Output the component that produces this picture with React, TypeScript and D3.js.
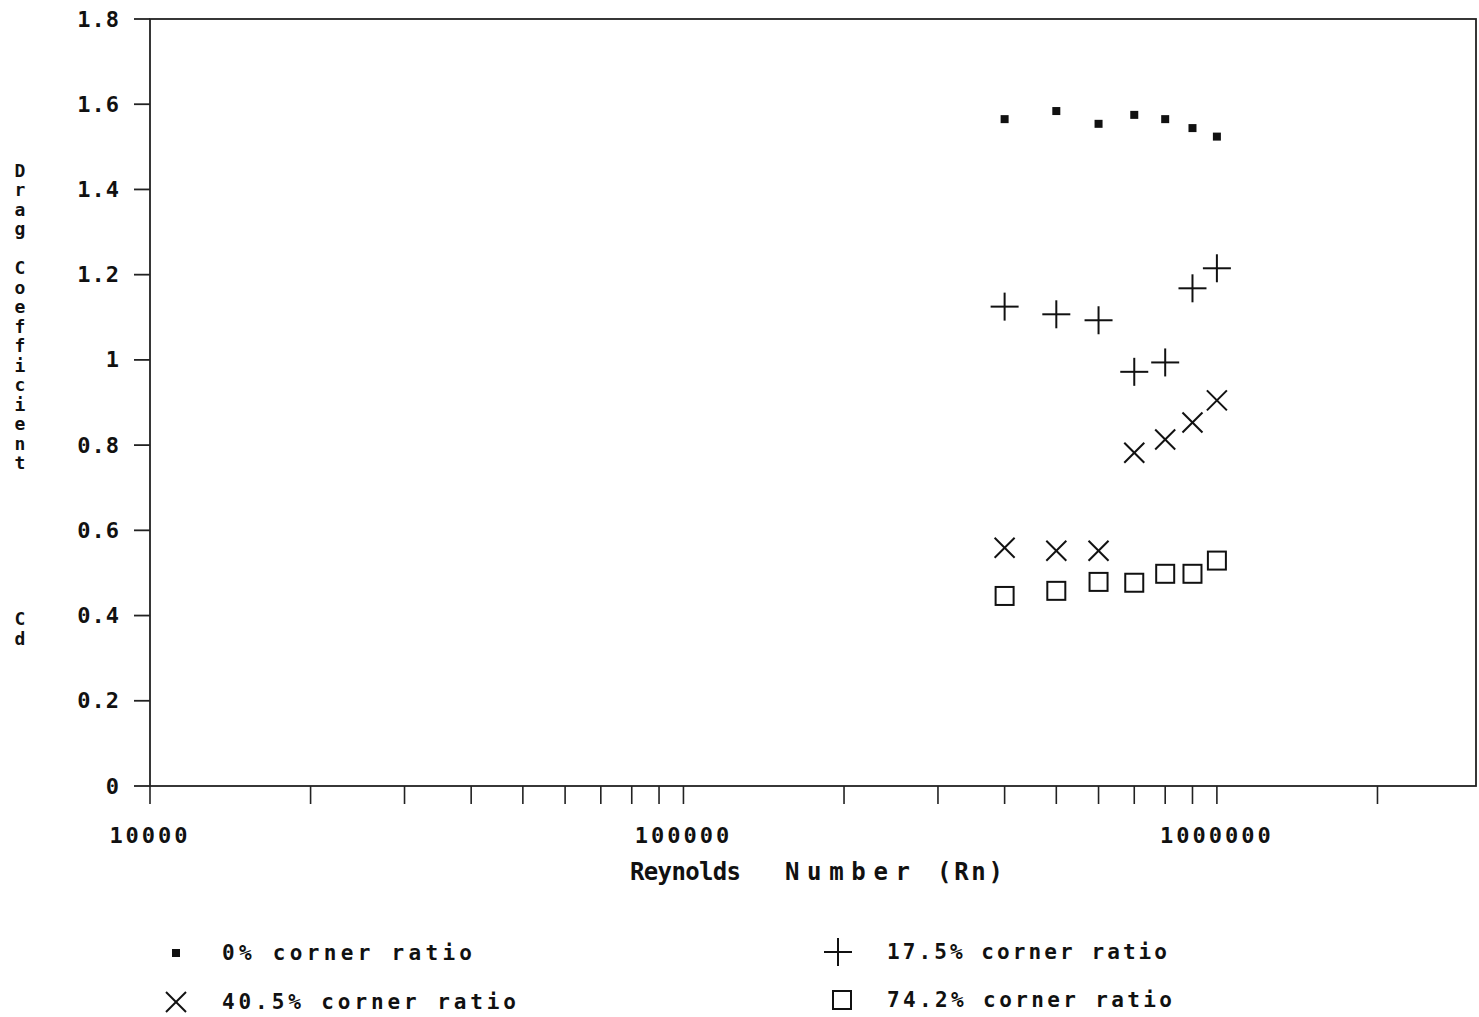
import React from "react";
import * as d3 from "d3";

const reynolds = [400000, 500000, 600000, 700000, 800000, 900000, 1000000];
const cd0 = [1.565, 1.584, 1.554, 1.575, 1.565, 1.544, 1.524];
const cd175 = [1.125, 1.107, 1.093, 0.972, 0.994, 1.168, 1.215];
const cd405 = [0.559, 0.552, 0.552, 0.782, 0.813, 0.853, 0.905];
const cd742 = [0.446, 0.458, 0.479, 0.477, 0.498, 0.498, 0.529];

const yTicks = [0, 0.2, 0.4, 0.6, 0.8, 1, 1.2, 1.4, 1.6, 1.8];
const yTickLabels = ["0", "0.2", "0.4", "0.6", "0.8", "1", "1.2", "1.4", "1.6", "1.8"];
const xMinorTicks = [
  10000, 20000, 30000, 40000, 50000, 60000, 70000, 80000, 90000, 100000,
  200000, 300000, 400000, 500000, 600000, 700000, 800000, 900000, 1000000, 2000000,
];
const xLabelTicks = [10000, 100000, 1000000];
const xLabels = ["10000", "100000", "1000000"];
const yTitle = "Drag Coefficient       Cd";
const xTitleWords = ["Reynolds", "Number", "(Rn)"];
const legendLabels = ["0% corner ratio", "17.5% corner ratio", "40.5% corner ratio", "74.2% corner ratio"];

const FONT = "'DejaVu Sans Mono', monospace";

function Marker({ kind, x, y }: { kind: string; x: number; y: number }) {
  const s = "#111";
  if (kind === "dot") return <rect x={x - 4} y={y - 4} width={8} height={8} fill={s} />;
  if (kind === "plus")
    return (
      <g stroke={s} strokeWidth={2}>
        <line x1={x - 14} x2={x + 14} y1={y} y2={y} />
        <line x1={x} x2={x} y1={y - 14} y2={y + 14} />
      </g>
    );
  if (kind === "cross")
    return (
      <g stroke={s} strokeWidth={2}>
        <line x1={x - 10} x2={x + 10} y1={y - 10} y2={y + 10} />
        <line x1={x - 10} x2={x + 10} y1={y + 10} y2={y - 10} />
      </g>
    );
  return <rect x={x - 9} y={y - 9} width={18} height={18} fill="none" stroke={s} strokeWidth={2} />;
}

export default function App() {
  const left = 150, right = 1476, top = 19, bottom = 786;
  const x = d3.scaleLog().domain([10000, 3060000]).range([left, right]);
  const y = d3.scaleLinear().domain([0, 1.8]).range([bottom, top]);
  const series = [
    { kind: "dot", vals: cd0 },
    { kind: "plus", vals: cd175 },
    { kind: "cross", vals: cd405 },
    { kind: "square", vals: cd742 },
  ];
  const legendPos = [
    { mx: 176, tx: 222, y: 953, w: 250 },
    { mx: 838, tx: 887, y: 952, w: 280 },
    { mx: 176, tx: 222, y: 1002, w: 294 },
    { mx: 842, tx: 887, y: 1000, w: 285 },
  ];
  const titlePos = [
    { x: 630, w: 111 },
    { x: 785, w: 125 },
    { x: 937, w: 66 },
  ];
  return (
    <svg width={1479} height={1017} style={{ position: "absolute", left: 0, top: 0, background: "#fff" }}>
      <rect x={left} y={top} width={right - left} height={bottom - top} fill="none" stroke="#222" strokeWidth={1.8} />
      {yTicks.map((t, i) => (
        <g key={"y" + i}>
          <line x1={left - 16} x2={left} y1={y(t)} y2={y(t)} stroke="#222" strokeWidth={1.8} />
          <text x={120} y={y(t)} textAnchor="end" dominantBaseline="central" fontFamily={FONT} fontWeight="bold" fontSize={22} letterSpacing={1} fill="#111">
            {yTickLabels[i]}
          </text>
        </g>
      ))}
      {xMinorTicks.map((t, i) => (
        <line key={"x" + i} x1={x(t)} x2={x(t)} y1={bottom} y2={bottom + 18} stroke="#222" strokeWidth={1.6} />
      ))}
      {xLabelTicks.map((t, i) => (
        <text key={"xl" + i} x={x(t)} y={835} textAnchor="middle" dominantBaseline="central" fontFamily={FONT} fontWeight="bold" fontSize={22} letterSpacing={3} fill="#111">
          {xLabels[i]}
        </text>
      ))}
      {xTitleWords.map((w, i) => (
        <text key={"xt" + i} x={titlePos[i].x} y={872} dominantBaseline="central" fontFamily={FONT} fontWeight="bold" fontSize={24} textLength={titlePos[i].w} lengthAdjust="spacing" fill="#111">
          {w}
        </text>
      ))}
      {yTitle.split("").map((c, i) =>
        c === " " ? null : (
          <text key={"yt" + i} x={20} y={170 + i * 19.5} textAnchor="middle" dominantBaseline="central" fontFamily={FONT} fontWeight="bold" fontSize={18} fill="#111">
            {c}
          </text>
        )
      )}
      {series.map((s) =>
        reynolds.map((r, i) => <Marker key={s.kind + i} kind={s.kind} x={x(r)} y={y(s.vals[i])} />)
      )}
      {legendLabels.map((l, i) => (
        <g key={"lg" + i}>
          <Marker kind={series[i].kind} x={legendPos[i].mx} y={legendPos[i].y} />
          <text x={legendPos[i].tx} y={legendPos[i].y} dominantBaseline="central" fontFamily={FONT} fontWeight="bold" fontSize={21} textLength={legendPos[i].w} lengthAdjust="spacing" fill="#111">
            {l}
          </text>
        </g>
      ))}
    </svg>
  );
}
